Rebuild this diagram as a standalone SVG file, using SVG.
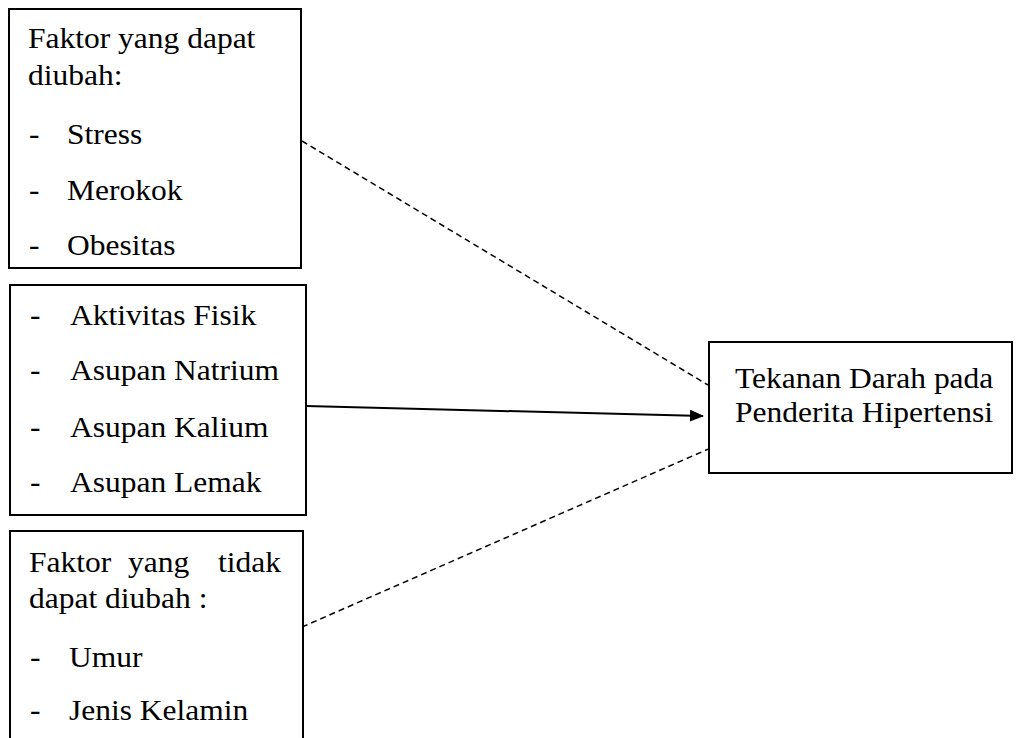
<svg xmlns="http://www.w3.org/2000/svg" width="1017" height="738" viewBox="0 0 1017 738">
<style>
.box{fill:#fff;stroke:#000;stroke-width:2}
.t{font-family:"Liberation Serif","Times New Roman",serif;font-size:30px;fill:#000}
.dash{stroke:#000;stroke-width:1.5;stroke-dasharray:6 4;fill:none}
.solid{stroke:#000;stroke-width:2;fill:none}
</style>
<defs>
<marker id="ah" markerWidth="14" markerHeight="12" refX="13" refY="6" orient="auto" markerUnits="userSpaceOnUse">
<path d="M0,0 L14,6 L0,12 Z" fill="#000"/>
</marker>
</defs>
<rect width="1017" height="738" fill="#fff"/>
<g id="connectors">
<line class="dash" x1="302" y1="141" x2="708" y2="385"/>
<line class="dash" x1="302" y1="627" x2="713" y2="447"/>
<line class="solid" x1="306" y1="406" x2="703" y2="416" marker-end="url(#ah)"/>
</g>
<g id="node-dapat">
<rect class="box" x="9" y="9" width="292" height="259"/>
<text class="t" transform="matrix(1.05 0 0 1 28 48)">Faktor yang dapat</text>
<text class="t" transform="matrix(1.05 0 0 1 28 85)">diubah:</text>
<text class="t" transform="matrix(1.05 0 0 1 29 144)">-</text>
<text class="t" transform="matrix(1.05 0 0 1 67 144)">Stress</text>
<text class="t" transform="matrix(1.05 0 0 1 29 200)">-</text>
<text class="t" transform="matrix(1.05 0 0 1 67 200)">Merokok</text>
<text class="t" transform="matrix(1.05 0 0 1 29 255)">-</text>
<text class="t" transform="matrix(1.05 0 0 1 67 255)">Obesitas</text>
</g>
<g id="node-asupan">
<rect class="box" x="10" y="285" width="296" height="230"/>
<text class="t" transform="matrix(1.05 0 0 1 30 325)">-</text>
<text class="t" transform="matrix(1.05 0 0 1 70 325)">Aktivitas Fisik</text>
<text class="t" transform="matrix(1.05 0 0 1 30 380)">-</text>
<text class="t" transform="matrix(1.05 0 0 1 70 380)">Asupan Natrium</text>
<text class="t" transform="matrix(1.05 0 0 1 30 437)">-</text>
<text class="t" transform="matrix(1.05 0 0 1 70 437)">Asupan Kalium</text>
<text class="t" transform="matrix(1.05 0 0 1 30 492)">-</text>
<text class="t" transform="matrix(1.05 0 0 1 70 492)">Asupan Lemak</text>
</g>
<g id="node-tidak">
<rect class="box" x="10" y="531" width="293" height="220"/>
<text class="t" transform="matrix(1.05 0 0 1 29 572)">Faktor</text>
<text class="t" transform="matrix(1.05 0 0 1 128 572)">yang</text>
<text class="t" transform="matrix(1.05 0 0 1 218 572)">tidak</text>
<text class="t" transform="matrix(1.05 0 0 1 29 608)">dapat diubah :</text>
<text class="t" transform="matrix(1.05 0 0 1 30 667)">-</text>
<text class="t" transform="matrix(1.05 0 0 1 69 667)">Umur</text>
<text class="t" transform="matrix(1.05 0 0 1 30 720)">-</text>
<text class="t" transform="matrix(1.05 0 0 1 69 720)">Jenis Kelamin</text>
</g>
<g id="node-tekanan">
<rect class="box" x="709" y="342" width="303" height="131"/>
<text class="t" transform="matrix(1.05 0 0 1 735 388)">Tekanan Darah pada</text>
<text class="t" transform="matrix(1.05 0 0 1 735 422)">Penderita Hipertensi</text>
</g>
</svg>
